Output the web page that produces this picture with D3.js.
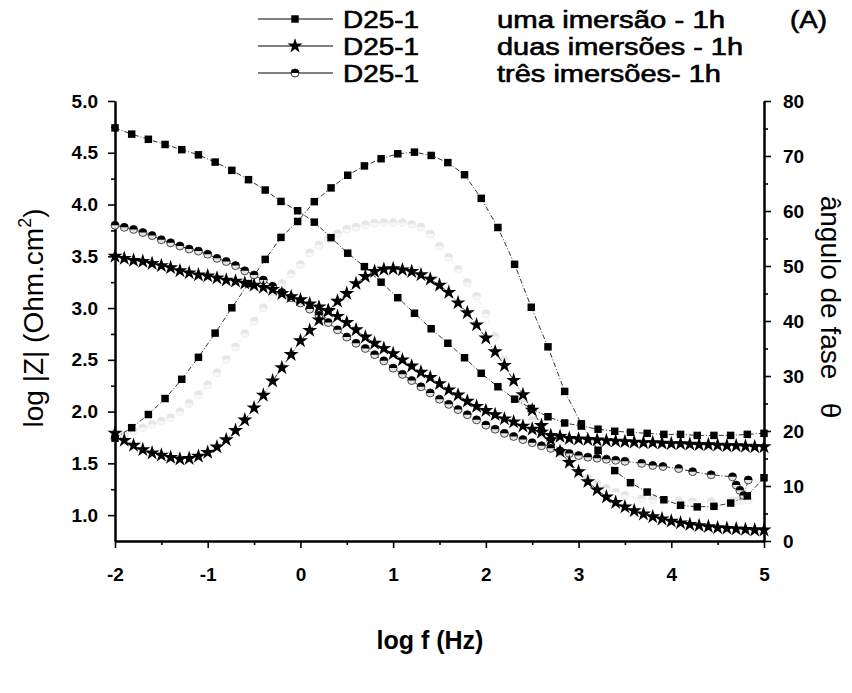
<!DOCTYPE html>
<html><head><meta charset="utf-8">
<script src="https://cdn.jsdelivr.net/npm/d3@7"></script>
<style>
html,body{margin:0;padding:0;background:#fff;}
text{font-family:"Liberation Sans",Arial,sans-serif;}
</style></head>
<body><svg id="chart" width="852" height="693"></svg>
<script>
// ---------- DATA ----------
// uma imersão (squares)
const freqSq = [-2.00,-1.82,-1.64,-1.46,-1.28,-1.10,-0.92,-0.74,-0.56,-0.38,-0.21,-0.03,0.15,0.33,0.51,0.69,0.87,1.05,1.23,1.41,1.59,1.77,1.95,2.13,2.31,2.49,2.67,2.85,3.03,3.21,3.39,3.56,3.74,3.92,4.10,4.28,4.46,4.64,4.82,5.00];
const zSq = [4.74,4.68,4.63,4.58,4.53,4.48,4.41,4.33,4.24,4.14,4.03,3.94,3.83,3.68,3.53,3.40,3.25,3.10,2.95,2.80,2.66,2.52,2.37,2.24,2.12,2.03,1.95,1.89,1.86,1.83,1.81,1.80,1.79,1.78,1.78,1.77,1.77,1.77,1.78,1.79];
const phSq = [18.7,20.6,23.0,25.9,29.4,33.4,37.8,42.4,46.8,51.2,55.2,58.1,61.7,64.2,66.5,68.2,69.5,70.4,70.7,70.1,68.8,66.6,62.3,57.0,50.3,42.5,35.3,27.2,21.3,16.5,12.8,10.6,8.9,7.5,6.5,6.2,6.3,6.9,8.2,11.5];

// duas imersões (stars)
const freqSt = [-2.0,-1.9,-1.8,-1.7,-1.6,-1.5,-1.4,-1.3,-1.2,-1.1,-1.0,-0.9,-0.8,-0.7,-0.6,-0.5,-0.4,-0.3,-0.2,-0.1,0.0,0.1,0.2,0.3,0.4,0.5,0.6,0.7,0.8,0.9,1.0,1.1,1.2,1.3,1.4,1.5,1.6,1.7,1.8,1.9,2.0,2.1,2.2,2.3,2.4,2.5,2.6,2.7,2.8,2.9,3.0,3.1,3.2,3.3,3.4,3.5,3.6,3.7,3.8,3.9,4.0,4.1,4.2,4.3,4.4,4.5,4.6,4.7,4.8,4.9,5.0];
const zSt = [3.50,3.48,3.46,3.45,3.43,3.41,3.39,3.36,3.34,3.32,3.31,3.29,3.27,3.26,3.24,3.22,3.20,3.18,3.14,3.11,3.08,3.04,3.01,2.97,2.92,2.86,2.79,2.72,2.66,2.61,2.56,2.50,2.44,2.38,2.33,2.27,2.21,2.16,2.10,2.05,2.01,1.97,1.93,1.90,1.86,1.83,1.80,1.77,1.76,1.74,1.735,1.73,1.725,1.72,1.715,1.71,1.705,1.70,1.70,1.695,1.69,1.69,1.685,1.68,1.68,1.675,1.67,1.67,1.665,1.66,1.66];
const phSt = [19.6,18.3,17.4,16.6,16.0,15.6,15.2,14.9,15.0,15.4,16.1,17.1,18.4,20.1,22.0,24.2,26.5,29.1,31.5,33.9,36.4,38.3,40.2,41.9,43.6,45.0,46.8,48.1,49.0,49.4,49.5,49.3,49.0,48.4,47.6,46.5,45.2,43.3,41.5,39.3,36.9,34.4,31.9,29.2,26.6,23.8,21.0,18.4,16.3,14.3,12.6,10.8,9.3,8.0,7.0,6.2,5.5,4.9,4.4,4.0,3.6,3.3,3.0,2.8,2.6,2.4,2.3,2.2,2.1,2.0,2.0];

// três imersões (half-filled circles)
const freqCi = [-2.0,-1.9,-1.8,-1.7,-1.6,-1.5,-1.4,-1.3,-1.2,-1.1,-1.0,-0.9,-0.8,-0.7,-0.6,-0.5,-0.4,-0.3,-0.2,-0.1,0.0,0.1,0.2,0.3,0.4,0.5,0.6,0.7,0.8,0.9,1.0,1.1,1.2,1.3,1.4,1.5,1.6,1.7,1.8,1.9,2.0,2.1,2.2,2.3,2.4,2.5,2.6,2.7,2.8,2.9,3.0,3.1,3.2,3.3,3.4,3.5,3.68,3.80,3.91,4.08,4.23,4.43,4.66,4.70,4.74,4.78,4.83];
const zCi = [3.80,3.78,3.76,3.73,3.70,3.66,3.63,3.60,3.57,3.55,3.52,3.48,3.45,3.41,3.36,3.32,3.27,3.21,3.15,3.10,3.05,2.99,2.93,2.86,2.79,2.72,2.66,2.61,2.55,2.49,2.42,2.36,2.30,2.24,2.18,2.12,2.07,2.02,1.97,1.92,1.87,1.83,1.79,1.76,1.73,1.70,1.67,1.645,1.62,1.595,1.575,1.56,1.55,1.54,1.53,1.52,1.50,1.48,1.47,1.45,1.42,1.39,1.37,1.29,1.24,1.19,1.34];
const phCi = [18.8,19.3,20.0,20.6,21.2,21.8,22.4,23.5,25.0,26.6,28.4,30.6,33.0,35.3,37.7,40.0,42.4,44.6,46.8,48.6,50.3,52.4,53.8,54.9,55.9,56.7,57.1,57.5,57.8,57.9,57.9,57.9,57.6,57.1,55.8,53.6,51.6,49.4,47.0,44.5,41.3,37.2,32.9,28.6,25.2,22.0,19.4,17.0,15.3,13.8,12.5,11.4,10.4,9.6,8.9,8.3,7.7,7.5,7.4,7.3,7.2,7.2,7.3,7.3,7.4,7.4,7.5];

// ticks and labels
const xTicksMajor = [-2,-1,0,1,2,3,4,5];
const xTicksMinor = [-1.5,-0.5,0.5,1.5,2.5,3.5,4.5];
const yLTicksMajor = [1.0,1.5,2.0,2.5,3.0,3.5,4.0,4.5,5.0];
const yLTicksMinor = [1.25,1.75,2.25,2.75,3.25,3.75,4.25,4.75];
const yRTicksMajor = [0,10,20,30,40,50,60,70,80];
const yRTicksMinor = [5,15,25,35,45,55,65,75];
const legendNames = ["D25-1","D25-1","D25-1"];
const legendDesc = ["uma imersão - 1h","duas imersões - 1h","três imersões- 1h"];

// ---------- CHART ----------
const svg = d3.select("#chart");
const x = d3.scaleLinear().domain([-2,5]).range([115,764]);
const yL = d3.scaleLinear().domain([0.75,5]).range([541,101]);
const yR = d3.scaleLinear().domain([0,80]).range([541,101]);

function styleAxis(g){
  g.selectAll(".domain").attr("stroke","#000").attr("stroke-width",2);
  g.selectAll(".tick line").attr("stroke","#000").attr("stroke-width",1.6);
  g.selectAll(".tick text").attr("fill","#000").style("font-weight","bold")
   .style("font-size","19px").style("font-family",'"Liberation Sans",Arial,sans-serif');
}
// bottom
svg.append("g").attr("transform","translate(0,541)")
  .call(d3.axisBottom(x).tickValues(xTicksMinor).tickSize(4).tickSizeOuter(0).tickFormat(""))
  .call(styleAxis);
const gx = svg.append("g").attr("transform","translate(0,541)")
  .call(d3.axisBottom(x).tickValues(xTicksMajor).tickSize(7).tickSizeOuter(0).tickPadding(20).tickFormat(d3.format("d")))
  .call(styleAxis);
gx.selectAll(".tick text").text(d=> d<0 ? "-"+Math.abs(d) : d);
// left
svg.append("g").attr("transform","translate(115,0)")
  .call(d3.axisLeft(yL).tickValues(yLTicksMinor).tickSize(4).tickSizeOuter(0).tickFormat(""))
  .call(styleAxis);
svg.append("g").attr("transform","translate(115,0)")
  .call(d3.axisLeft(yL).tickValues(yLTicksMajor).tickSize(7).tickSizeOuter(0).tickPadding(10).tickFormat(d3.format(".1f")))
  .call(styleAxis);
// right
svg.append("g").attr("transform","translate(764,0)")
  .call(d3.axisRight(yR).tickValues(yRTicksMinor).tickSize(4).tickSizeOuter(0).tickFormat(""))
  .call(styleAxis);
svg.append("g").attr("transform","translate(764,0)")
  .call(d3.axisRight(yR).tickValues(yRTicksMajor).tickSize(7).tickSizeOuter(0).tickPadding(12).tickFormat(d3.format("d")))
  .call(styleAxis);

// axis titles
svg.append("text").attr("transform","translate(43,318) rotate(-90)")
  .attr("text-anchor","middle").style("font-size","28px")
  .html('log |Z| (Ohm.cm<tspan dy="-12" font-size="18px">2</tspan><tspan dy="12">)</tspan>');
svg.append("text").attr("x",430).attr("y",649).attr("text-anchor","middle")
  .style("font-size","25px").style("font-weight","bold").text("log f (Hz)");
svg.append("text").attr("transform","translate(821,307) rotate(90)")
  .attr("text-anchor","middle").style("font-size","28px").style("white-space","pre")
  .text("ângulo de fase   θ");

// series
const lineDash = "5,2,1,2";
function drawLine(fr, vals, yScale, color){
  const pts = fr.map((f,i)=>[x(f), yScale(vals[i])]);
  svg.append("path").attr("d", d3.line()(pts)).attr("fill","none")
    .attr("stroke",color).attr("stroke-width",1).attr("stroke-dasharray",lineDash);
}
const sqSym = d3.symbol().type(d3.symbolSquare).size(56);
const stSym = d3.symbol().type(d3.symbolStar).size(70);
function drawSquares(fr, vals, yScale){
  svg.append("g").selectAll("path").data(fr).join("path")
    .attr("d", sqSym()).attr("fill","#000")
    .attr("transform",(f,i)=>`translate(${x(f)},${yScale(vals[i])})`);
}
function drawStars(fr, vals, yScale){
  svg.append("g").selectAll("path").data(fr).join("path")
    .attr("d", stSym()).attr("fill","#000")
    .attr("transform",(f,i)=>`translate(${x(f)},${yScale(vals[i])})`);
}
const topHalf = d3.arc()({innerRadius:0, outerRadius:4, startAngle:-Math.PI/2, endAngle:Math.PI/2});
function drawHalfCircles(fr, vals, yScale, dark, light, stroke){
  const g = svg.append("g").selectAll("g").data(fr).join("g")
    .attr("transform",(f,i)=>`translate(${x(f)},${yScale(vals[i])})`);
  g.append("circle").attr("r",4).attr("fill",light).attr("stroke",stroke).attr("stroke-width",0.8);
  g.append("path").attr("d",topHalf).attr("fill",dark);
}

// três imersões phase (very light)
drawLine(freqCi, phCi, yR, "#f0f0f0");
drawHalfCircles(freqCi, phCi, yR, "#e6e6e6", "#f8f8f8", "#ebebeb");

// lines
drawLine(freqSq, zSq, yL, "#333");
drawLine(freqSq, phSq, yR, "#333");
drawLine(freqSt, zSt, yL, "#333");
drawLine(freqSt, phSt, yR, "#333");
drawLine(freqCi, zCi, yL, "#333");

// markers
drawHalfCircles(freqCi, zCi, yL, "#000", "#e4e4e4", "#222");
drawStars(freqSt, zSt, yL);
drawStars(freqSt, phSt, yR);
drawSquares(freqSq, zSq, yL);
drawSquares(freqSq, phSq, yR);

// legend
const legY = [19,46,73];
const descLen = [228,246,224];
const leg = svg.append("g");
function legText(xp, yp, str, len){
  leg.append("text").attr("x",xp).attr("y",yp).style("font-size","23px")
    .attr("stroke","#000").attr("stroke-width",0.6)
    .attr("textLength",len).attr("lengthAdjust","spacingAndGlyphs").text(str);
}
legY.forEach((ly,i)=>{
  leg.append("line").attr("x1",258).attr("x2",333).attr("y1",ly).attr("y2",ly)
    .attr("stroke","#000").attr("stroke-width",1);
  const t = `translate(295,${ly})`;
  if(i===0) leg.append("path").attr("d",sqSym()).attr("transform",t).attr("fill","#000");
  if(i===1) leg.append("path").attr("d",stSym()).attr("transform",t).attr("fill","#000");
  if(i===2){
    leg.append("circle").attr("cx",295).attr("cy",ly).attr("r",4).attr("fill","#fff").attr("stroke","#000").attr("stroke-width",0.8);
    leg.append("path").attr("d",topHalf).attr("transform",t).attr("fill","#000");
  }
  legText(343, ly+9, legendNames[i], 76);
  legText(497, ly+9, legendDesc[i], descLen[i]);
});
legText(790, legY[0]+9, "(A)", 37);
</script></body></html>
